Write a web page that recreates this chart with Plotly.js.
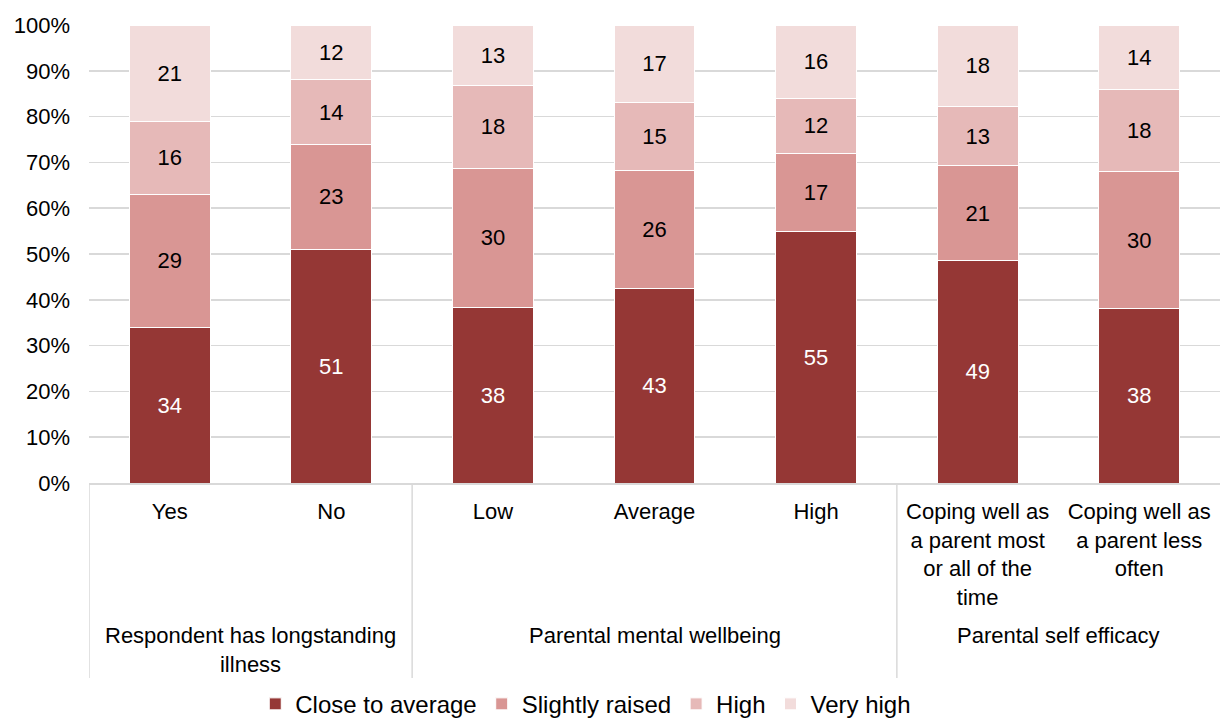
<!DOCTYPE html>
<html>
<head>
<meta charset="utf-8">
<script src="https://cdn.plot.ly/plotly-3.0.1.min.js"></script>
<style>html,body{margin:0;padding:0;background:#fff;}#chart{width:1220px;height:720px;}</style>
</head>
<body>
<div id="chart"></div>
<script>
const categories = ["Yes", "No", "Low", "Average", "High", "Coping most", "Coping less"];
const tickLabels = ["Yes", "No", "Low", "Average", "High",
  "Coping well as<br>a parent most<br>or all of the<br>time",
  "Coping well as<br>a parent less<br>often"];
const groupLabels = ["Respondent has longstanding<br>illness", "Parental mental wellbeing", "Parental self efficacy"];
const groupCenters = [0.5, 3, 5.5];
const groupDividers = [-0.5, 1.5, 4.5];
const seriesNames = ["Close to average", "Slightly raised", "High", "Very high"];
const closeToAverage = [34, 51, 38, 43, 55, 49, 38];
const slightlyRaised = [29, 23, 30, 26, 17, 21, 30];
const high = [16, 14, 18, 15, 12, 13, 18];
const veryHigh = [21, 12, 13, 17, 16, 18, 14];

const colors = ["#953735", "#D99694", "#E6B9B8", "#F2DCDB"];
const textColors = ["#ffffff", "#000000", "#000000", "#000000"];
const FONT = "Liberation Sans, Arial, sans-serif";
const FS = 22;

const seriesValues = [closeToAverage, slightlyRaised, high, veryHigh];
const traces = seriesValues.map((vals, i) => ({
  type: "bar",
  name: seriesNames[i],
  x: categories,
  y: vals,
  text: vals.map(String),
  texttemplate: "%{text}",
  textposition: "inside",
  insidetextanchor: "middle",
  textangle: 0,
  constraintext: "none",
  insidetextfont: {family: FONT, size: FS, color: textColors[i]},
  marker: {color: colors[i], line: {color: "#ffffff", width: 1}},
  hoverinfo: "skip"
}));

const shapes = groupDividers.map(xv => ({
  type: "line", xref: "x", yref: "paper",
  x0: xv, x1: xv, y0: 0, y1: -0.426,
  line: {color: "#d9d9d9", width: 1.5}
}));

const annotations = groupLabels.map((t, i) => ({
  text: t, x: groupCenters[i], xref: "x", y: -0.302, yref: "paper",
  xanchor: "center", yanchor: "top", showarrow: false,
  font: {family: FONT, size: FS, color: "#000"}
}));

const layout = {
  width: 1220, height: 720,
  margin: {l: 89, r: 0, t: 25, b: 237, autoexpand: false},
  paper_bgcolor: "#fff", plot_bgcolor: "#fff",
  barmode: "stack", barnorm: "percent", bargap: 0.5,
  font: {family: FONT, size: FS, color: "#000"},
  xaxis: {
    type: "category", categoryorder: "array", categoryarray: categories,
    tickvals: categories, ticktext: tickLabels,
    showline: true, linecolor: "#d9d9d9", linewidth: 1.5,
    ticks: "", showgrid: false, ticklabelstandoff: 8,
    tickfont: {family: FONT, size: FS, color: "#000"},
    range: [-0.5, 6.5], fixedrange: true
  },
  yaxis: {
    range: [0, 100], dtick: 10, ticksuffix: "%",
    showgrid: true, gridcolor: "#d9d9d9", gridwidth: 1.5,
    zeroline: false, showline: false, ticks: "", ticklabelstandoff: 18,
    tickfont: {family: FONT, size: FS, color: "#000"}
  },
  showlegend: true,
  legend: {
    orientation: "h", x: 0.147, xanchor: "left", y: -0.434, yanchor: "top",
    font: {family: FONT, size: 24, color: "#000"},
    traceorder: "normal", itemclick: false
  },
  shapes: shapes,
  annotations: annotations
};

Plotly.newPlot("chart", traces, layout, {displayModeBar: false, staticPlot: true});
</script>
</body>
</html>
